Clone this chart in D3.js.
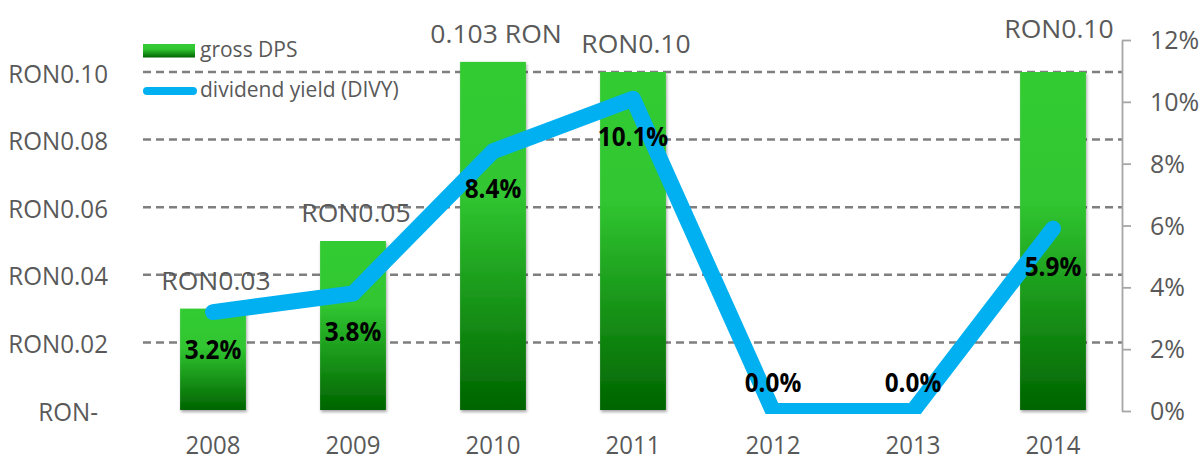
<!DOCTYPE html>
<html>
<head>
<meta charset="utf-8">
<script src="https://cdn.jsdelivr.net/npm/d3@7"></script>
<style>
  html, body { margin: 0; padding: 0; background: #ffffff; }
  svg { display: block; }
  svg text { font-family: "Open Sans", "Noto Sans", sans-serif; }
</style>
</head>
<body>
<svg id="chart" width="1202" height="461"></svg>
<script>
// ---- data ----
const categories = ["2008", "2009", "2010", "2011", "2012", "2013", "2014"];
const dps = [0.03, 0.05, 0.103, 0.10, 0, 0, 0.10];
const dpsLabels = ["RON0.03", "RON0.05", "0.103 RON", "RON0.10", "", "", "RON0.10"];
const divy = [3.2, 3.8, 8.4, 10.1, 0.0, 0.0, 5.9];
const divyLabels = ["3.2%", "3.8%", "8.4%", "10.1%", "0.0%", "0.0%", "5.9%"];
const leftTicks = [0, 0.02, 0.04, 0.06, 0.08, 0.10];
const leftTickLabels = ["RON-", "RON0.02", "RON0.04", "RON0.06", "RON0.08", "RON0.10"];
const rightTicks = [0, 2, 4, 6, 8, 10, 12];
const rightTickLabels = ["0%", "2%", "4%", "6%", "8%", "10%", "12%"];
const legendLabels = ["gross DPS", "dividend yield (DIVY)"];

// ---- layout ----
const svg = d3.select("#chart");
const plotL = 143, plotR = 1123;
const x = d3.scaleBand().domain(categories).range([plotL, plotR]).paddingInner(0.53).paddingOuter(0.265);
const yL = d3.scaleLinear().domain([0, 0.10]).range([410, 72]);
const yR = d3.scaleLinear().domain([0, 12]).range([411, 40]);

const grey = "#595959";
const blue = "#00B0F0";

// defs
const defs = svg.append("defs");
const grad = defs.append("linearGradient").attr("id", "barGrad")
  .attr("x1", 0).attr("y1", 0).attr("x2", 0).attr("y2", 1);
grad.append("stop").attr("offset", "0").attr("stop-color", "#33CC33");
grad.append("stop").attr("offset", "0.38").attr("stop-color", "#31C631");
grad.append("stop").attr("offset", "1").attr("stop-color", "#006400");
const shadow = defs.append("filter").attr("id", "shadow")
  .attr("x", "-20%").attr("y", "-5%").attr("width", "140%").attr("height", "115%");
shadow.append("feDropShadow").attr("dx", 1).attr("dy", 2).attr("stdDeviation", 1.5)
  .attr("flood-color", "#000").attr("flood-opacity", 0.35);
defs.append("clipPath").attr("id", "plotClip")
  .append("rect").attr("x", 0).attr("y", 0).attr("width", 1202).attr("height", 414);

// gridlines
svg.append("g").selectAll("line").data(leftTicks.filter(d => d > 0)).join("line")
  .attr("x1", plotL).attr("x2", plotR - 1)
  .attr("y1", d => yL(d)).attr("y2", d => yL(d))
  .attr("stroke", "#7f7f7f").attr("stroke-width", 2.5)
  .attr("stroke-dasharray", "8,5");

// bars
svg.append("g").selectAll("rect")
  .data(categories.map((c, i) => ({ c, v: dps[i] })).filter(d => d.v > 0))
  .join("rect")
  .attr("x", d => x(d.c))
  .attr("y", d => yL(d.v))
  .attr("width", x.bandwidth())
  .attr("height", d => yL(0) - yL(d.v))
  .attr("fill", "url(#barGrad)")
  .attr("filter", "url(#shadow)");

// helper for compressed text
function addText(g, txt, tx, ty, opts) {
  const sx = opts.sx || 1;
  return g.append("text")
    .attr("transform", `translate(${tx},${ty}) scale(${sx},1)`)
    .attr("text-anchor", opts.anchor || "middle")
    .attr("font-size", opts.size)
    .attr("font-weight", opts.weight || "normal")
    .attr("fill", opts.fill || grey)
    .text(txt);
}

// bar value labels
const barLab = svg.append("g");
categories.forEach((c, i) => {
  if (!dpsLabels[i]) return;
  const last = i === categories.length - 1;
  const cx = x(c) + x.bandwidth() / 2 + (last ? 6 : 3);
  const by = yL(dps[i]) - (last ? 34 : 19);
  addText(barLab, dpsLabels[i], cx, by, { size: 26, sx: 1.02 });
});

// line
const line = d3.line()
  .x((d, i) => x(categories[i]) + x.bandwidth() / 2)
  .y(d => yR(d));
svg.append("path").datum(divy)
  .attr("d", line)
  .attr("clip-path", "url(#plotClip)")
  .attr("fill", "none")
  .attr("stroke", blue)
  .attr("stroke-width", 16)
  .attr("stroke-linejoin", "round")
  .attr("stroke-linecap", "round");

// percentage labels
const pctLab = svg.append("g");
categories.forEach((c, i) => {
  const cx = x(c) + x.bandwidth() / 2;
  const by = Math.min(yR(divy[i]) + 47, 392);
  addText(pctLab, divyLabels[i], cx, by, { size: 27, weight: "bold", fill: "#000", sx: 0.9 });
});

// left axis
const leftAxis = svg.append("g").attr("transform", `translate(${plotL},0)`)
  .call(d3.axisLeft(yL).tickValues(leftTicks).tickSize(0).tickPadding(35)
    .tickFormat((d, i) => leftTickLabels[i]));
leftAxis.attr("font-family", null).attr("font-size", null);
leftAxis.select(".domain").remove();
leftAxis.selectAll("text")
  .attr("x", null).attr("dy", null)
  .attr("transform", d => `translate(${d === 0 ? -45 : -35},10) scale(0.93,1)`)
  .attr("font-size", 26).attr("fill", grey);

// right axis
const rightAxis = svg.append("g").attr("transform", `translate(1122,0)`)
  .call(d3.axisRight(yR).tickValues(rightTicks).tickSize(9).tickSizeOuter(0).tickPadding(19)
    .tickFormat((d, i) => rightTickLabels[i]));
rightAxis.attr("font-family", null).attr("font-size", null);
rightAxis.select(".domain").attr("stroke", "#a6a6a6").attr("stroke-width", 1.8);
rightAxis.selectAll(".tick line").attr("stroke", "#a6a6a6").attr("stroke-width", 1.8);
rightAxis.selectAll("text").attr("dy", "8.5px").attr("font-size", 25).attr("fill", grey);

// x axis
const xAxis = svg.append("g").attr("transform", `translate(0,410)`)
  .call(d3.axisBottom(x).tickSize(0));
xAxis.attr("font-family", null).attr("font-size", null);
xAxis.select(".domain").remove();
xAxis.selectAll("text")
  .attr("y", null).attr("dy", null)
  .attr("transform", "translate(0,44) scale(0.96,1)")
  .attr("font-size", 25).attr("fill", grey);

// legend
const leg = svg.append("g");
leg.append("rect").attr("x", 143).attr("y", 44).attr("width", 52).attr("height", 13.5)
  .attr("fill", "url(#barGrad)");
leg.append("line").attr("x1", 147).attr("x2", 193).attr("y1", 91).attr("y2", 91)
  .attr("stroke", blue).attr("stroke-width", 8).attr("stroke-linecap", "round");
addText(leg, legendLabels[0], 200, 56.5, { size: 21, anchor: "start" });
addText(leg, legendLabels[1], 200, 97, { size: 21, anchor: "start" });
</script>
</body>
</html>
